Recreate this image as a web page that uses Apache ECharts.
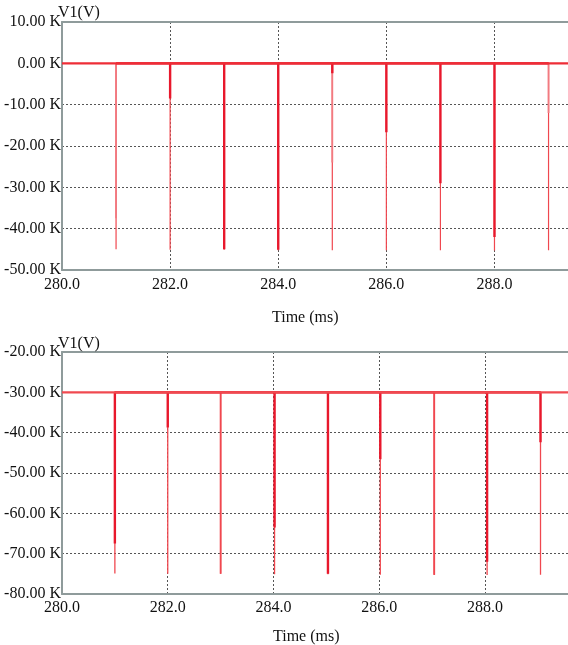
<!DOCTYPE html>
<html>
<head>
<meta charset="utf-8">
<script src="https://cdn.jsdelivr.net/npm/echarts@6/dist/echarts.min.js"></script>
<style>html,body{margin:0;padding:0;background:#fff}#c{width:568px;height:645px}</style>
</head>
<body>
<div id="c"></div>
<script>
// ---- data (values in kV, labelled "K") ----
const topTimes = [281.0, 282.0, 283.0, 284.0, 285.0, 286.0, 287.0, 288.0, 289.0];
const topMin   = [-45.0, -45.1, -45.1, -45.2, -45.2, -45.2, -45.2, -45.3, -45.2];
const topThick = [0, -8.5, -45.0, -45.1, -2.4, -16.7, -29.0, -42.0, 0];
const topMed   = [-37.5, 0, 0, 0, -24.0, 0, 0, 0, -12.0];
const topBase = 0;
const topXMax = 289.36;

const botTimes = [281.0, 282.0, 283.0, 284.02, 285.03, 286.02, 287.04, 288.04, 289.05];
const botMin   = [-74.9, -75.0, -75.0, -75.1, -75.1, -75.2, -75.3, -75.3, -75.2];
const botThick = [-67.5, -38.7, -30, -63.5, -75.0, -46.6, -30, -72.0, -42.4];
const botMed   = [-30, -30, -75.0, -30, -30, -30, -75.2, -30, -30];
const botBase = -30;
const botXMax = 289.57;

const FONT = 'Liberation Serif';
const axisGray = '#8f9b9b';

function spikes(times, vals, base) {
  const d = [];
  times.forEach((t, i) => { d.push([t, base], [t, vals[i]], [t, base]); });
  return d;
}

function xAx(gi, min, max, pos, show, margin) {
  return {
    type: 'value', gridIndex: gi, min: min, max: max, interval: 2, position: pos,
    axisLine: {show: true, onZero: false, lineStyle: {color: axisGray, width: 2}},
    axisTick: {show: false},
    axisLabel: {show: show, margin: margin, color: '#111', fontFamily: FONT, fontSize: 16,
      showMaxLabel: false, formatter: v => v.toFixed(1)},
    splitLine: {show: show, lineStyle: {color: '#555', type: [2, 2], width: 1}}
  };
}
function yAx(gi, min, max) {
  return {
    type: 'value', gridIndex: gi, min: min, max: max, interval: 10,
    axisLine: {show: true, onZero: false, lineStyle: {color: axisGray, width: 2}},
    axisTick: {show: false},
    axisLabel: {margin: 1, color: '#111', fontFamily: FONT, fontSize: 16,
      formatter: v => v.toFixed(2) + ' K'},
    splitLine: {show: true, lineStyle: {color: '#555', type: [2, 2], width: 1}}
  };
}
function lineS(xi, data, color, width, z) {
  return {type: 'line', xAxisIndex: xi, yAxisIndex: xi < 2 ? 0 : 1, data: data,
    showSymbol: false, symbol: 'none', animation: false, z: z,
    lineStyle: {color: color, width: width}};
}
const ts = {fontFamily: FONT, fontSize: 16, fontWeight: 'normal', color: '#111'};

const chart = echarts.init(document.getElementById('c'), null, {renderer: 'canvas'});
chart.setOption({
  animation: false,
  title: [
    {text: 'V1(V)', left: 58, top: 5, padding: 0, textStyle: ts},
    {text: 'Time (ms)', left: 272, top: 310, padding: 0, textStyle: ts},
    {text: 'V1(V)', left: 58, top: 336, padding: 0, textStyle: ts},
    {text: 'Time (ms)', left: 273, top: 629, padding: 0, textStyle: ts}
  ],
  grid: [
    {left: 62, top: 22, right: 0, height: 248},
    {left: 62, top: 352, right: 0, height: 242}
  ],
  xAxis: [
    xAx(0, 280, topXMax, 'bottom', true, 7),
    xAx(0, 280, topXMax, 'top', false, 7),
    xAx(1, 280, botXMax, 'bottom', true, 6),
    xAx(1, 280, botXMax, 'top', false, 6)
  ],
  yAxis: [yAx(0, -50, 10), yAx(1, -80, -20)],
  series: [
    lineS(0, spikes(topTimes, topMin, topBase), '#f0474f', 1.2, 2),
    lineS(0, spikes(topTimes, topMed, topBase), '#f27a80', 1.8, 3),
    lineS(0, spikes(topTimes, topThick, topBase), '#e8182c', 2.4, 4),
    lineS(0, [[280, topBase], [topXMax, topBase]], '#ee2d36', 2.2, 5),
    lineS(2, spikes(botTimes, botMin, botBase), '#f0474f', 1.3, 2),
    lineS(2, spikes(botTimes, botMed, botBase), '#f0474f', 1.8, 3),
    lineS(2, spikes(botTimes, botThick, botBase), '#e8182c', 2.4, 4),
    lineS(2, [[280, botBase], [botXMax, botBase]], '#f04a50', 2.2, 5)
  ]
});
</script>
</body>
</html>
